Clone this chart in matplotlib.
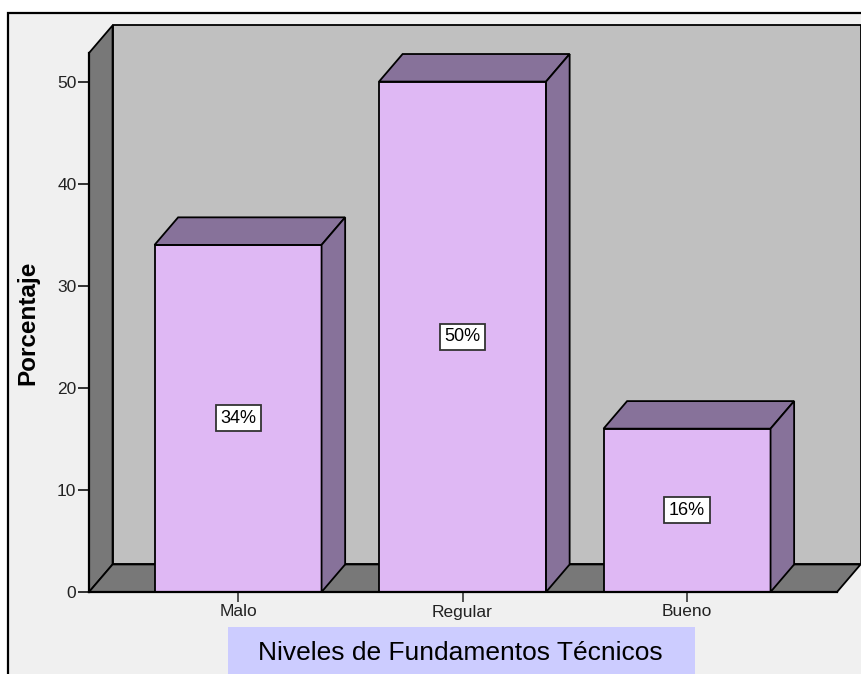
import matplotlib
matplotlib.use("Agg")
from matplotlib import pyplot
from matplotlib.patches import Polygon, Rectangle

niveles = ["Malo", "Regular", "Bueno"]
porcentajes = [34, 50, 16]
etiquetas = ["34%", "50%", "16%"]
yticks = [0, 10, 20, 30, 40, 50]

FRONT = "#dfb8f4"
SHADE = "#87729a"
WALL = "#c0c0c0"
SIDE = "#787878"
PANEL = "#f0f0f0"

# depth of the pseudo-3d box, in data units
DX = 0.105
DY = 2.7
XLIM = (-0.664, 2.668)
YLIM = (0, 52.8)
BAR_W = 0.744

W, H = 862, 674
fig = pyplot.figure(figsize=(W / 100, H / 100), dpi=100)
fig.patch.set_facecolor("white")

# outer chart panel
fig.patches.append(Rectangle((8 / W, -0.1), 1.2, (H - 13) / H + 0.1,
                             transform=fig.transFigure, facecolor=PANEL,
                             edgecolor="black", linewidth=1.6, zorder=-10))

ax = fig.add_axes([89 / W, (H - 592) / H, (837 - 89) / W, (592 - 53) / H])
ax.set_xlim(*XLIM)
ax.set_ylim(*YLIM)
ax.patch.set_visible(False)
for s in ax.spines.values():
    s.set_visible(False)


def poly(pts, color, z):
    ax.add_patch(Polygon(pts, closed=True, facecolor=color, edgecolor="black",
                         linewidth=1.3, joinstyle="miter", clip_on=False, zorder=z))


x0, x1 = XLIM
y0, y1 = YLIM
# back wall, left wall and floor
poly([(x0 + DX, DY), (x1 + DX, DY), (x1 + DX, y1 + DY), (x0 + DX, y1 + DY)], WALL, 1)
poly([(x0, 0), (x0 + DX, DY), (x0 + DX, y1 + DY), (x0, y1)], SIDE, 2)
poly([(x0, 0), (x1, 0), (x1 + DX, DY), (x0 + DX, DY)], SIDE, 2)

for i, (v, lab) in enumerate(zip(porcentajes, etiquetas)):
    l, r = i - BAR_W / 2, i + BAR_W / 2
    poly([(l, 0), (r, 0), (r, v), (l, v)], FRONT, 3)
    poly([(l, v), (r, v), (r + DX, v + DY), (l + DX, v + DY)], SHADE, 3)
    poly([(r, 0), (r + DX, DY), (r + DX, v + DY), (r, v)], SHADE, 3)
    ax.text(i, v / 2, lab, ha="center", va="center", fontsize=13,
            family="Liberation Sans", zorder=5,
            bbox=dict(boxstyle="square,pad=0.25", facecolor="white",
                      edgecolor="#333333", linewidth=1.3))

# front edges of the box
ax.plot([x0, x0], [0, y1], color="black", linewidth=1.6, clip_on=False, zorder=4)
ax.plot([x0, x1], [0, 0], color="black", linewidth=1.6, clip_on=False, zorder=4)

ax.set_yticks(yticks)
ax.set_xticks(range(len(niveles)))
ax.set_xticklabels(niveles)
ax.tick_params(axis="y", length=8, width=1.3, color="#222222", pad=1,
               labelsize=12.5, labelcolor="#222222")
ax.tick_params(axis="x", length=7, width=1.3, color="#444444", pad=2,
               labelsize=12.5, labelcolor="#222222")
for t in ax.get_xticklabels() + ax.get_yticklabels():
    t.set_family("Liberation Sans")

fig.text(28 / W, 1 - 323 / H, "Porcentaje", rotation=90, ha="center", va="center",
         fontsize=17.5, fontweight="bold", family="Liberation Sans")

# axis title box
fig.patches.append(Rectangle((228 / W, -0.05), (695 - 228) / W, (H - 627) / H + 0.05,
                             transform=fig.transFigure, facecolor="#ccccff",
                             edgecolor="none", zorder=-5))
fig.text(460 / W, 1 - 653 / H, "Niveles de Fundamentos Técnicos", ha="center",
         va="center", fontsize=19, family="Liberation Sans")

fig.savefig("out.png", dpi=100)
